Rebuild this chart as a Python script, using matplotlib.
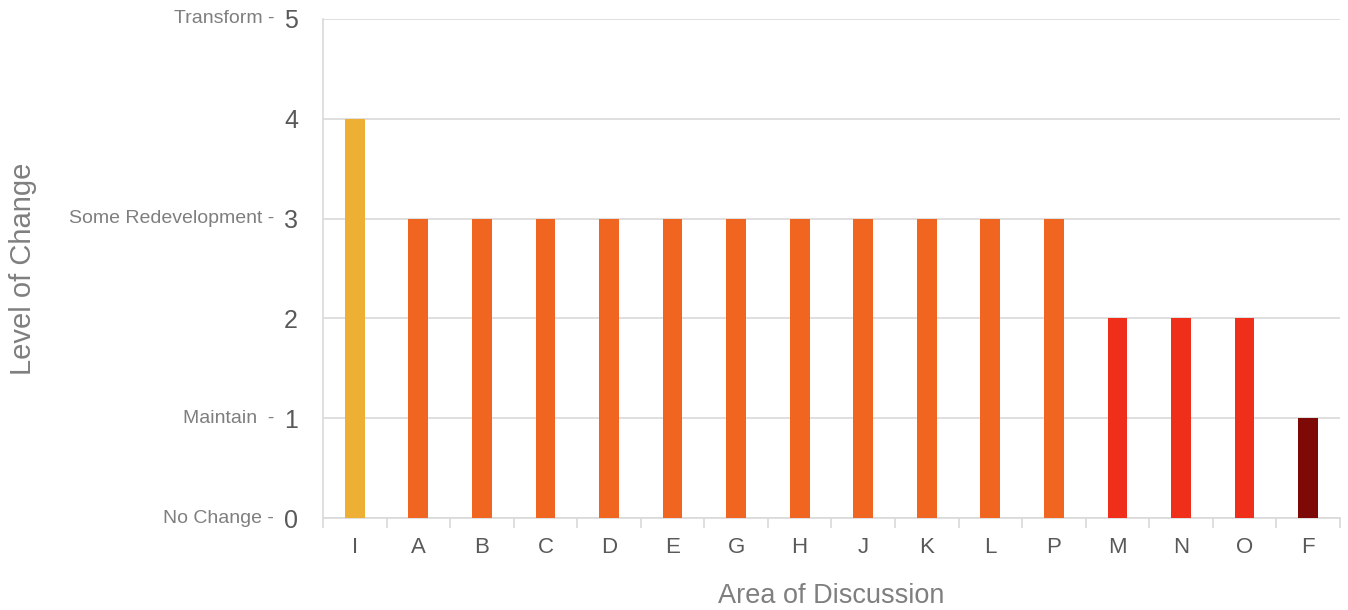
import numpy as np
import matplotlib.pyplot as plt

plt.rcParams['font.family'] = ['Liberation Sans', 'DejaVu Sans']

# data
areas = ['I', 'A', 'B', 'C', 'D', 'E', 'G', 'H', 'J', 'K', 'L', 'P', 'M', 'N', 'O', 'F']
levels = [4, 3, 3, 3, 3, 3, 3, 3, 3, 3, 3, 3, 2, 2, 2, 1]
level_names = {0: 'No Change -', 1: 'Maintain  -', 3: 'Some Redevelopment -', 5: 'Transform -'}

level_colors = {4: '#EDB035', 3: '#F0651F', 2: '#EF2F1A', 1: '#7D0A07'}
colors = [level_colors[v] for v in levels]

fig = plt.figure(figsize=(13.48, 6.10), dpi=100)
ax = fig.add_axes([0.2396, 0.1508, 0.7544, 0.8181])

x = np.arange(len(areas))
ax.bar(x, levels, width=0.31, color=colors, zorder=3)

ax.set_xlim(-0.5, len(areas) - 0.5)
ax.set_ylim(0, 5)
ax.set_yticks(range(6))
ax.yaxis.grid(True, color='#D9D9D9', linewidth=1.2, zorder=0)
ax.set_axisbelow(True)

# x ticks: labels at centers, marks at category boundaries
ax.set_xticks(x)
ax.set_xticklabels(areas, fontsize=16, color='#595959')
ax.tick_params(axis='x', which='major', length=0, pad=14)
ax.set_xticks(np.arange(-0.5, len(areas)), minor=True)
ax.tick_params(axis='x', which='minor', length=7, color='#D9D9D9', width=1.2)

ax.tick_params(axis='y', length=0, pad=18, labelsize=18, labelcolor='#595959')

for s in ['top', 'right']:
    ax.spines[s].set_visible(False)
ax.spines['left'].set_color('#D9D9D9')
ax.spines['bottom'].set_color('#D9D9D9')
ax.spines['left'].set_linewidth(1.2)
ax.spines['bottom'].set_linewidth(1.2)

for v, name in level_names.items():
    ax.annotate(name, xy=(0, v), xycoords=('axes fraction', 'data'),
                xytext=(-35, 0), textcoords='offset points',
                ha='right', va='center', fontsize=14, color='#7F7F7F')

ax.set_xlabel('Area of Discussion', fontsize=19.5, color='#7F7F7F', labelpad=18)
fig.text(0.017, 0.56, 'Level of Change', rotation=90, fontsize=21,
         color='#7F7F7F', ha='center', va='center')

fig.savefig('out.png', dpi=100)
